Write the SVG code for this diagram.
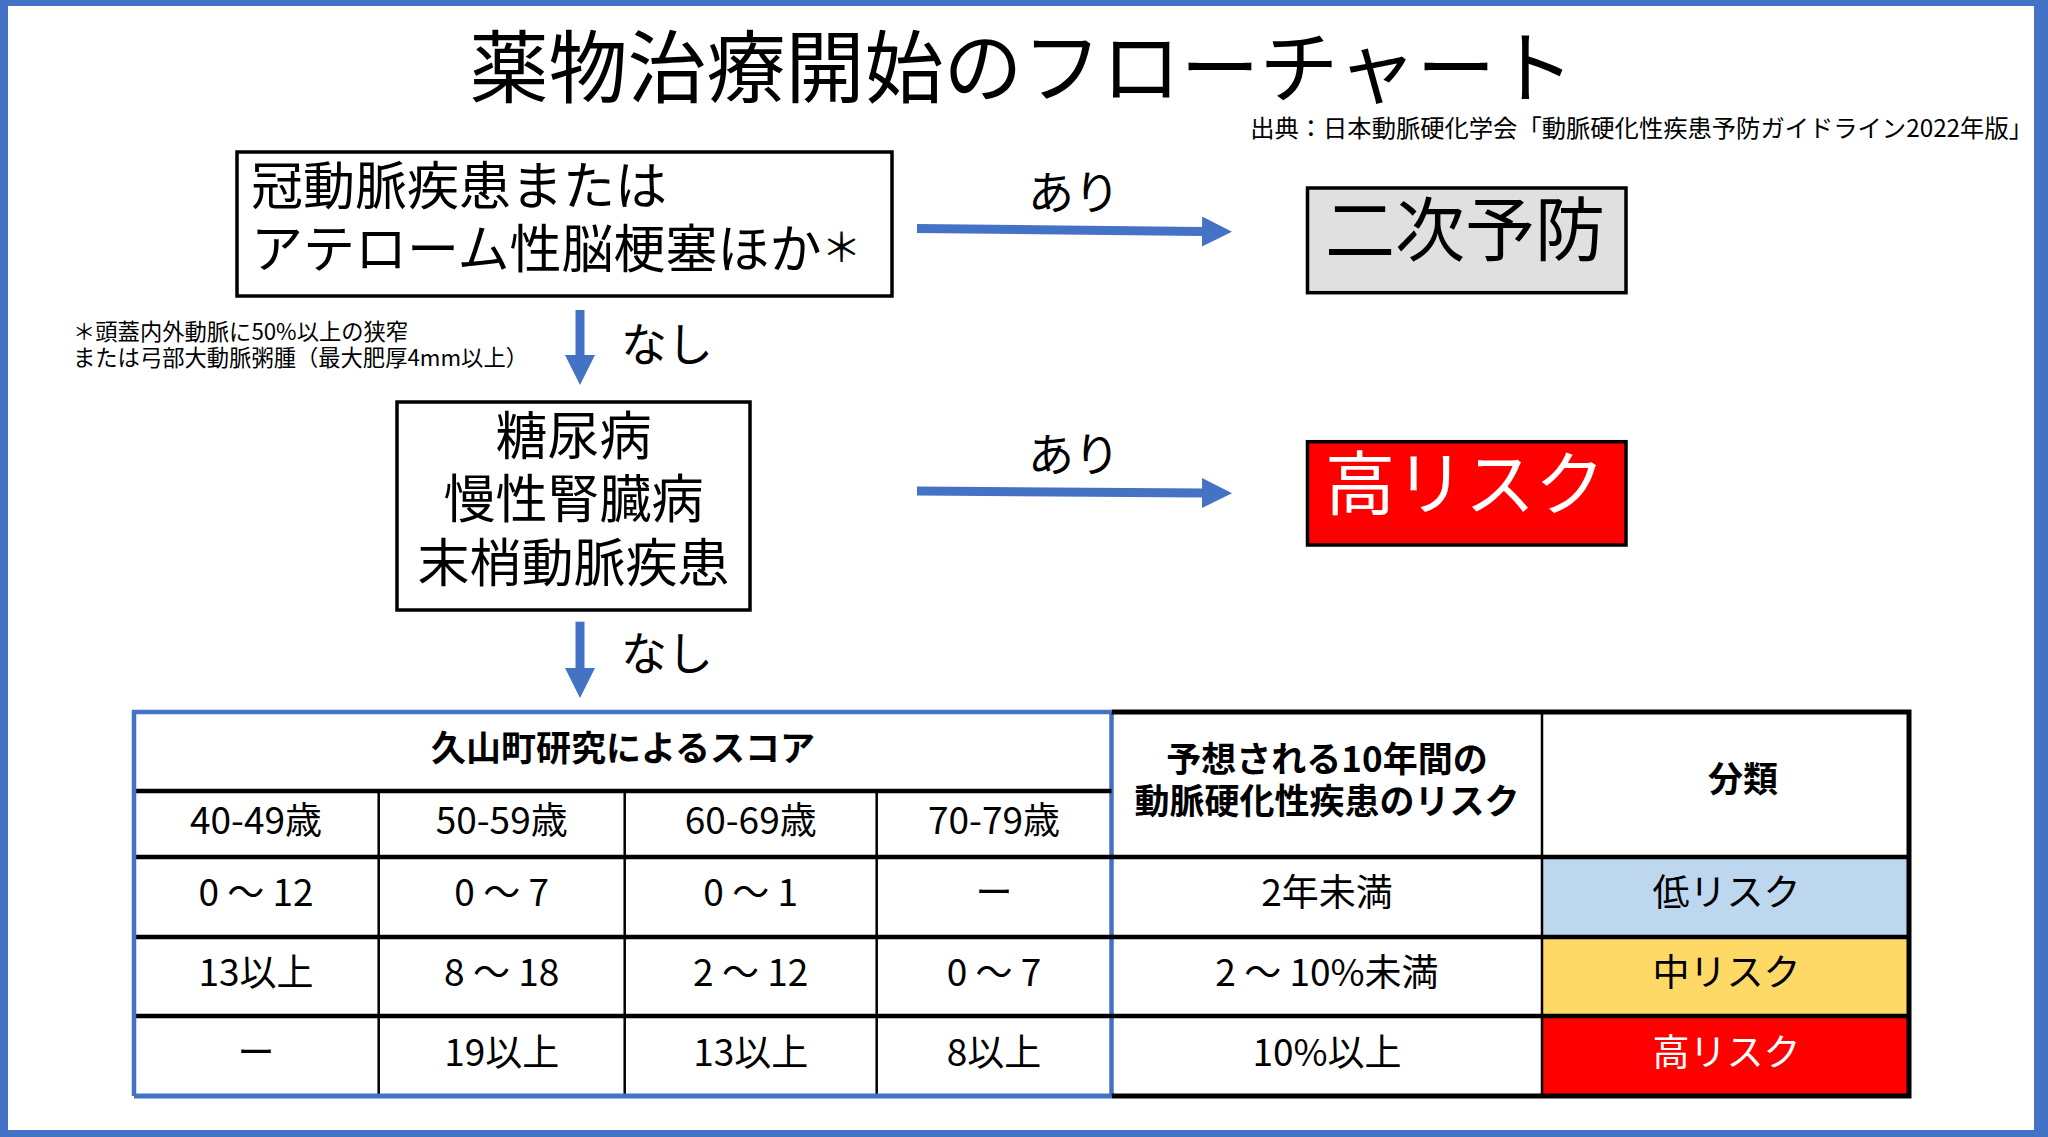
<svg xmlns="http://www.w3.org/2000/svg" width="2048" height="1137" viewBox="0 0 2048 1137">
<style>
text{font-family:"Noto Sans CJK JP","Noto Sans",sans-serif;fill:#000}
.c{text-anchor:middle}
.box{fill:#fff;stroke:#000;stroke-width:3.5}
.arr{stroke:#4472C4;stroke-width:9;fill:none}
.lbl{font-size:46px}
.big{font-size:52px}
.td{font-size:37px;text-anchor:middle}
.th{font-size:35px;font-weight:700;text-anchor:middle}
.bk{stroke:#000;fill:none}
.bl{stroke:#4472C4;fill:none}
</style>
<defs>
<marker id="ah" markerUnits="userSpaceOnUse" markerWidth="31" markerHeight="31" refX="0" refY="15" orient="auto" viewBox="0 0 31 31">
<path d="M0,0 L30,15 L0,30 Z" fill="#4472C4"/>
</marker>
</defs>
<rect x="0" y="0" width="2048" height="1137" fill="#fff"/>
<g id="frame" fill="#4472C4">
<rect x="0" y="0" width="2048" height="6"/>
<rect x="0" y="0" width="8" height="1137"/>
<rect x="2034" y="0" width="14" height="1137"/>
<rect x="0" y="1130" width="2048" height="7"/>
</g>
<g id="title">
<text x="1022" y="97" class="c" style="font-size:79px">薬物治療開始のフローチャート</text>
<text x="2033" y="137" style="font-size:24.3px;text-anchor:end">出典：日本動脈硬化学会「動脈硬化性疾患予防ガイドライン2022年版」</text>
</g>
<g id="node-cad">
<rect class="box" x="237" y="152" width="655" height="144"/>
<text class="big"><tspan x="251" y="205">冠動脈疾患または</tspan><tspan x="251" y="268">アテローム性脳梗塞ほか<tspan style="font-size:40px" dy="-6">＊</tspan></tspan></text>
</g>
<g id="footnote">
<text style="font-size:22.3px"><tspan x="73" y="340">＊頭蓋内外動脈に50%以上の狭窄</tspan><tspan x="73" y="366">または弓部大動脈粥腫（最大肥厚4mm以上）</tspan></text>
</g>
<g id="node-secondary">
<rect x="1307.5" y="188" width="318.5" height="104.7" fill="#E0E0E0" stroke="#000" stroke-width="3.5"/>
<text x="1465" y="256" class="c" style="font-size:70px">二次予防</text>
</g>
<g id="node-dm">
<rect class="box" x="397" y="402" width="353" height="208"/>
<text class="c big"><tspan x="573.5" y="455">糖尿病</tspan><tspan x="573.5" y="518">慢性腎臓病</tspan><tspan x="573.5" y="582">末梢動脈疾患</tspan></text>
</g>
<g id="node-high">
<rect x="1307.5" y="441.7" width="318.5" height="103.3" fill="#FF0000" stroke="#000" stroke-width="3.5"/>
<text x="1465" y="510" class="c" style="font-size:70px;fill:#fff">高リスク</text>
</g>
<g id="connectors">
<line class="arr" x1="917" y1="228.5" x2="1202" y2="231.5" marker-end="url(#ah)"/>
<line class="arr" x1="917" y1="491" x2="1202" y2="493" marker-end="url(#ah)"/>
<line class="arr" x1="580" y1="310" x2="580" y2="355" marker-end="url(#ah)"/>
<line class="arr" x1="580" y1="621.7" x2="580" y2="668" marker-end="url(#ah)"/>
<text x="1074" y="209" class="c lbl">あり</text>
<text x="1074" y="470.5" class="c lbl">あり</text>
<text x="667" y="360.5" class="c lbl">なし</text>
<text x="667" y="669.5" class="c lbl">なし</text>
</g>
<g id="table">
<rect x="1542" y="857" width="367" height="80" fill="#BDD7EE"/>
<rect x="1542" y="937" width="367" height="79" fill="#FFD966"/>
<rect x="1542" y="1016" width="367" height="80" fill="#FF0000"/>
<path class="bl" stroke-width="4.5" d="M1111.5,712 V1096"/>
<path class="bk" stroke-width="2.5" d="M378.7,791 V1096 M624.7,791 V1096 M876.7,791 V1096 M1542,712 V1096"/>
<path class="bk" stroke-width="4.5" d="M134,791 H1111.5 M134,857 H1909 M134,937 H1909 M134,1016 H1909"/>
<path class="bk" stroke-width="5" d="M1111.5,712 H1909 V1096 H1111.5"/>
<path class="bl" stroke-width="4.5" d="M1111.5,712 H134 V1096"/>
<path class="bl" stroke-width="5" d="M134,1096 H1111.5"/>
<text x="623" y="761" class="th">久山町研究によるスコア</text>
<text class="th"><tspan x="1327" y="772">予想される10年間の</tspan><tspan x="1327" y="814">動脈硬化性疾患のリスク</tspan></text>
<text x="1743" y="792" class="th">分類</text>
<text x="256" y="834" class="td">40-49歳</text>
<text x="501.7" y="834" class="td">50-59歳</text>
<text x="750.7" y="834" class="td">60-69歳</text>
<text x="994" y="834" class="td">70-79歳</text>
<text x="256" y="906" class="td">0 ～ 12</text>
<text x="501.7" y="906" class="td">0 ～ 7</text>
<text x="750.7" y="906" class="td">0 ～ 1</text>
<text x="994" y="906" class="td">ー</text>
<text x="1327" y="906" class="td">2年未満</text>
<text x="1726.5" y="906" class="td">低リスク</text>
<text x="256" y="986" class="td">13以上</text>
<text x="501.7" y="986" class="td">8 ～ 18</text>
<text x="750.7" y="986" class="td">2 ～ 12</text>
<text x="994" y="986" class="td">0 ～ 7</text>
<text x="1327" y="986" class="td">2 ～ 10%未満</text>
<text x="1726.5" y="986" class="td">中リスク</text>
<text x="256" y="1066" class="td">ー</text>
<text x="501.7" y="1066" class="td">19以上</text>
<text x="750.7" y="1066" class="td">13以上</text>
<text x="994" y="1066" class="td">8以上</text>
<text x="1327" y="1066" class="td">10%以上</text>
<text x="1726.5" y="1066" class="td" style="fill:#fff">高リスク</text>
</g>
</svg>
